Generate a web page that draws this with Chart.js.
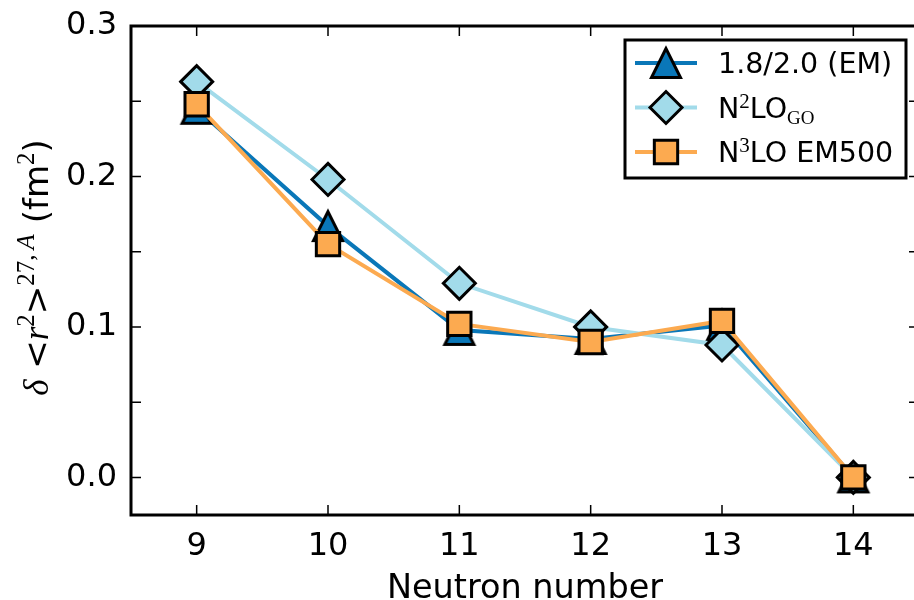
<!DOCTYPE html>
<html>
<head>
<meta charset="utf-8">
<script src="https://cdn.jsdelivr.net/npm/chart.js@4.4.0/dist/chart.umd.min.js"></script>
<style>
  html, body { margin: 0; padding: 0; background: #fff; overflow: hidden; }
  #wrap { width: 920px; height: 600px; }
</style>
</head>
<body>
<div id="wrap"><canvas id="chart" width="920" height="600"></canvas></div>
<script>
// ---- data ----
const neutronNumbers = [9, 10, 11, 12, 13, 14];
const em18 = [0.245, 0.167, 0.098, 0.092, 0.101, 0.0];      // 1.8/2.0 (EM)
const n2loGO = [0.263, 0.198, 0.129, 0.100, 0.088, 0.0];    // N2LO_GO
const n3loEM500 = [0.248, 0.155, 0.102, 0.090, 0.104, 0.0]; // N3LO EM500
const seriesNames = ['1.8/2.0 (EM)', 'N2LO_GO', 'N3LO EM500'];
const yTickValues = [0.0, 0.1, 0.2, 0.3];
const yTickLabels = ['0.0', '0.1', '0.2', '0.3'];

const DARK = '#0a77b8';
const LIGHT = '#a2dbea';
const ORANGE = '#fcaa50';
const SANS = '"DejaVu Sans", sans-serif';
const SERIF = '"Liberation Serif", "DejaVu Serif", serif';

// triangle marker like matplotlib '^' (as wide as it is tall)
function makeTriangle(fill) {
    const c = document.createElement('canvas');
    c.width = 36; c.height = 36;
    const g = c.getContext('2d');
    g.beginPath();
    g.moveTo(18, 3.5);
    g.lineTo(3.5, 32.5);
    g.lineTo(32.5, 32.5);
    g.closePath();
    g.fillStyle = fill;
    g.fill();
    g.lineWidth = 3;
    g.strokeStyle = '#000';
    g.lineJoin = 'miter';
    g.stroke();
    return c;
}
const triangle = makeTriangle(DARK);

const toPoints = arr => neutronNumbers.map((n, i) => ({ x: n, y: arr[i] }));

// legend text parts (with super/subscripts)
const legendParts = [
    [{ text: seriesNames[0], font: '28.5px ' + SANS }],
    [{ text: 'N', font: '28.5px ' + SANS }, { text: '2', font: '21px ' + SERIF, dy: -10 },
     { text: 'LO', font: '28.5px ' + SANS }, { text: 'GO', font: '19px ' + SERIF, dy: 6 }],
    [{ text: 'N', font: '28.5px ' + SANS }, { text: '3', font: '21px ' + SERIF, dy: -10 },
     { text: 'LO EM500', font: '28.5px ' + SANS }]
];
const legendMarkers = [
    { pointStyle: triangle, radius: 16, fill: DARK, line: DARK },
    { pointStyle: 'rectRot', radius: 16, fill: LIGHT, line: LIGHT },
    { pointStyle: 'rect', radius: 16.5, fill: ORANGE, line: ORANGE }
];

const yTitleParts = [
    { text: 'δ', font: 'italic 35px ' + SERIF },
    { text: ' <', font: '34px ' + SANS },
    { text: 'r', font: 'italic 35px ' + SERIF },
    { text: '2', font: '25px ' + SERIF, dy: -14 },
    { text: '>', font: '34px ' + SANS },
    { text: '27,\u2009', font: '25px ' + SERIF, dy: -14 },
    { text: 'A', font: 'italic 25px ' + SERIF, dy: -14 },
    { text: ' (fm', font: '34px ' + SANS },
    { text: '2', font: '25px ' + SERIF, dy: -14 },
    { text: ')', font: '34px ' + SANS }
];

function drawParts(ctx, parts, x, y, centered) {
    const widths = parts.map(p => { ctx.font = p.font; return ctx.measureText(p.text).width; });
    const total = widths.reduce((a, b) => a + b, 0);
    let cx = centered ? x - total / 2 : x;
    parts.forEach((p, i) => {
        ctx.font = p.font;
        ctx.fillText(p.text, cx, y + (p.dy || 0));
        cx += widths[i];
    });
}

// frame + inward ticks on all sides, like matplotlib
const framePlugin = {
    id: 'frame',
    afterDatasetsDraw(chart) {
        const { ctx, chartArea: a, scales } = chart;
        ctx.save();
        ctx.strokeStyle = '#000';
        ctx.lineWidth = 1.5;
        ctx.beginPath();
        scales.x.ticks.forEach(t => {
            const px = scales.x.getPixelForValue(t.value);
            ctx.moveTo(px, a.bottom); ctx.lineTo(px, a.bottom - 10);
            ctx.moveTo(px, a.top); ctx.lineTo(px, a.top + 10);
        });
        scales.y.ticks.forEach(t => {
            const k = t.value / 0.05;
            if (Math.abs(k - Math.round(k)) > 1e-6) return;
            const py = scales.y.getPixelForValue(t.value);
            ctx.moveTo(a.left, py); ctx.lineTo(a.left + 10, py);
            ctx.moveTo(a.right, py); ctx.lineTo(a.right - 10, py);
        });
        ctx.stroke();
        ctx.lineWidth = 3;
        ctx.strokeRect(a.left, a.top, a.right - a.left, a.bottom - a.top);
        ctx.restore();
    },
    afterDraw(chart) {
        const { ctx, chartArea: a } = chart;
        ctx.save();
        // y axis title, rotated
        ctx.fillStyle = '#000';
        ctx.textBaseline = 'alphabetic';
        ctx.translate(48, (a.top + a.bottom) / 2 - 3);
        ctx.rotate(-Math.PI / 2);
        drawParts(ctx, yTitleParts, 0, 0, true);
        ctx.restore();

        // legend
        ctx.save();
        const bx = a.right - 294, by = a.top + 14, bw = 281, bh = 138;
        ctx.fillStyle = '#fff';
        ctx.fillRect(bx, by, bw, bh);
        ctx.lineWidth = 3;
        ctx.strokeStyle = '#000';
        ctx.strokeRect(bx, by, bw, bh);
        legendMarkers.forEach((m, i) => {
            const ry = by + 23 + i * 44.5;
            ctx.strokeStyle = m.line;
            ctx.lineWidth = 4;
            ctx.beginPath();
            ctx.moveTo(bx + 10, ry); ctx.lineTo(bx + 72, ry);
            ctx.stroke();
            ctx.fillStyle = m.fill;
            ctx.strokeStyle = '#000';
            ctx.lineWidth = 3;
            Chart.helpers.drawPoint(ctx, { pointStyle: m.pointStyle, radius: m.radius, borderWidth: 3, rotation: 0 }, bx + 41, ry);
            ctx.fillStyle = '#000';
            ctx.textBaseline = 'alphabetic';
            drawParts(ctx, legendParts[i], bx + 93, ry + 10, false);
        });
        ctx.restore();
    }
};

const noPadding = s => { s.paddingLeft = 0; s.paddingRight = 0; s.paddingTop = 0; s.paddingBottom = 0; };

const config = {
    type: 'line',
    data: {
        datasets: [
            {
                label: seriesNames[0], data: toPoints(em18),
                borderColor: DARK, borderWidth: 4, backgroundColor: DARK,
                pointStyle: triangle, pointRadius: 16, pointBorderColor: '#000',
                order: 2
            },
            {
                label: seriesNames[1], data: toPoints(n2loGO),
                borderColor: LIGHT, borderWidth: 4, backgroundColor: LIGHT,
                pointStyle: 'rectRot', pointRadius: 16, pointBackgroundColor: LIGHT,
                pointBorderColor: '#000', pointBorderWidth: 3,
                order: 1
            },
            {
                label: seriesNames[2], data: toPoints(n3loEM500),
                borderColor: ORANGE, borderWidth: 4, backgroundColor: ORANGE,
                pointStyle: 'rect', pointRadius: 16.5, pointBackgroundColor: ORANGE,
                pointBorderColor: '#000', pointBorderWidth: 3,
                order: 0
            }
        ]
    },
    options: {
        responsive: false,
        animation: false,
        events: [],
        layout: { autoPadding: false, padding: { left: 0, top: 26, right: 1, bottom: 0 } },
        plugins: { legend: { display: false }, tooltip: { enabled: false } },
        scales: {
            x: {
                type: 'linear', min: 8.5, max: 14.5,
                afterBuildTicks: s => { s.ticks = neutronNumbers.map(v => ({ value: v })); },
                afterFit: s => { s.height = 85; noPadding(s); },
                grid: { display: false, drawTicks: false },
                border: { display: false },
                ticks: {
                    autoSkip: false, maxRotation: 0, padding: 12,
                    color: '#000', font: { family: SANS, size: 32 },
                    callback: v => String(v)
                },
                title: {
                    display: true, text: 'Neutron number', color: '#000',
                    font: { family: SANS, size: 33.5 }, padding: { top: 0, bottom: -9 }
                }
            },
            y: {
                min: -0.025, max: 0.3,
                afterFit: s => { s.width = 131; noPadding(s); },
                grid: { display: false, drawTicks: false },
                border: { display: false },
                ticks: {
                    stepSize: 0.05, autoSkip: false, padding: 14,
                    color: '#000', font: { family: SANS, size: 32 },
                    callback: v => {
                        const i = yTickValues.findIndex(t => Math.abs(t - v) < 1e-6);
                        return i >= 0 ? yTickLabels[i] : '';
                    }
                }
            }
        }
    },
    plugins: [framePlugin]
};

new Chart(document.getElementById('chart'), config);
</script>
</body>
</html>
